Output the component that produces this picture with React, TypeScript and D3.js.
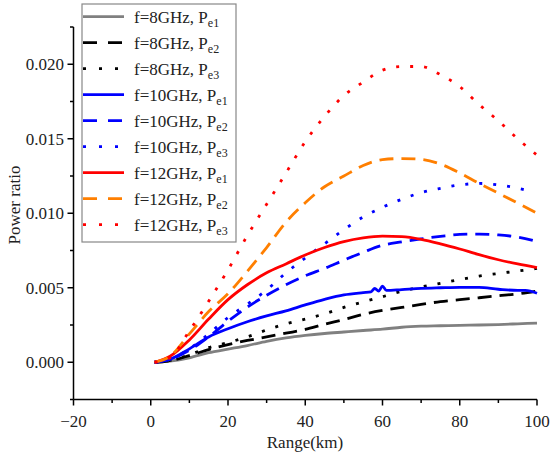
import React from "react";
import * as d3 from "d3";

const grid = [1, 5, 10, 15, 20, 25, 30, 35, 40, 45, 50, 55, 60, 65, 70, 75, 80, 85, 90, 95, 100];

const f8e1 = [0, 0.00008, 0.0003, 0.00064, 0.00088, 0.00112, 0.0014, 0.00163, 0.0018, 0.00193, 0.00203, 0.00213, 0.00222, 0.00235, 0.00242, 0.00245, 0.00248, 0.0025, 0.00253, 0.00258, 0.00263];
const f8e2 = [0, 0.0001, 0.00045, 0.00085, 0.00118, 0.00146, 0.0017, 0.00195, 0.0022, 0.00255, 0.00287, 0.00322, 0.00348, 0.00368, 0.00388, 0.00407, 0.0042, 0.00433, 0.00446, 0.00459, 0.00478];
const f8e3 = [0, 0.00012, 0.0005, 0.00098, 0.00132, 0.0017, 0.00217, 0.00258, 0.0029, 0.00325, 0.00368, 0.00405, 0.0044, 0.00477, 0.00505, 0.0053, 0.00555, 0.00578, 0.00596, 0.00612, 0.0063];

const x10e1 = [1, 5, 10, 15, 20, 25, 30, 35, 40, 45, 50, 55, 57, 58, 59, 60, 61, 65, 70, 75, 80, 85, 90, 95, 97, 100];
const f10e1 = [0, 0.0002, 0.0009, 0.0017, 0.00225, 0.00272, 0.00311, 0.00345, 0.00385, 0.00422, 0.00452, 0.00467, 0.00472, 0.00495, 0.00478, 0.0051, 0.00482, 0.00488, 0.00496, 0.005, 0.00503, 0.00502, 0.0049, 0.00482, 0.00482, 0.00463];
const f10e2 = [0, 0.0002, 0.0008, 0.0017, 0.00275, 0.0037, 0.0045, 0.0052, 0.0058, 0.0063, 0.00685, 0.00738, 0.00785, 0.00808, 0.00828, 0.00845, 0.00858, 0.0086, 0.00855, 0.0084, 0.0081];
const x10e3 = [1, 5, 10, 15, 20, 25, 30, 35, 40, 45, 50, 55, 60, 65, 70, 75, 80, 85, 90, 95, 98];
const f10e3 = [0, 0.0002, 0.0009, 0.0019, 0.003, 0.0039, 0.00485, 0.006, 0.007, 0.00795, 0.0089, 0.00975, 0.0104, 0.01094, 0.01138, 0.01167, 0.0119, 0.012, 0.0119, 0.01168, 0.0115];

const f12e1 = [0, 0.0004, 0.0015, 0.0029, 0.0042, 0.0052, 0.006, 0.0066, 0.0072, 0.0077, 0.0081, 0.00835, 0.00846, 0.00843, 0.00825, 0.00795, 0.0076, 0.00722, 0.00688, 0.0066, 0.00635];
const f12e2 = [0, 0.0004, 0.0019, 0.0034, 0.0046, 0.0061, 0.0077, 0.0094, 0.0107, 0.01178, 0.0125, 0.0132, 0.0136, 0.01367, 0.01362, 0.0133, 0.0127, 0.012, 0.01135, 0.01068, 0.01];
const f12e3 = [0, 0.0003, 0.0021, 0.0041, 0.0062, 0.0085, 0.0106, 0.0127, 0.0148, 0.0165, 0.0179, 0.0188, 0.0196, 0.01985, 0.01985, 0.0193, 0.0185, 0.0173, 0.0162, 0.015, 0.0139];

const freqLabels = ["f=8GHz, P", "f=8GHz, P", "f=8GHz, P", "f=10GHz, P", "f=10GHz, P", "f=10GHz, P", "f=12GHz, P", "f=12GHz, P", "f=12GHz, P"];
const subLabels = ["e1", "e2", "e3", "e1", "e2", "e3", "e1", "e2", "e3"];

const xMajor = [-20, 0, 20, 40, 60, 80, 100];
const xMinor = [-10, 10, 30, 50, 70, 90];
const yMajor = [0, 0.005, 0.01, 0.015, 0.02];
const yMinor = [-0.0025, 0.0025, 0.0075, 0.0125, 0.0175, 0.0225];

const GRAY = "#808080";
const BLUE = "#0000ff";
const RED = "#ff0000";
const ORANGE = "#ff7f00";
const SOLID = "none";
const DASH = "14 8";
const DOT = "3 11";

const series = [
  { xs: grid, ys: f8e1, color: GRAY, dash: SOLID },
  { xs: grid, ys: f8e2, color: "#000000", dash: DASH },
  { xs: grid, ys: f8e3, color: "#000000", dash: DOT },
  { xs: x10e1, ys: f10e1, color: BLUE, dash: SOLID },
  { xs: grid, ys: f10e2, color: BLUE, dash: DASH },
  { xs: x10e3, ys: f10e3, color: BLUE, dash: DOT },
  { xs: grid, ys: f12e1, color: RED, dash: SOLID },
  { xs: grid, ys: f12e2, color: ORANGE, dash: DASH },
  { xs: grid, ys: f12e3, color: RED, dash: DOT },
];

const FONT = "Liberation Serif, DejaVu Serif, serif";

export default function App() {
  const x = d3.scaleLinear().domain([-20, 100]).range([73.5, 537]);
  const y = d3.scaleLinear().domain([-0.0025, 0.0225]).range([399.5, 27]);
  const line = d3
    .line<[number, number]>()
    .x((d) => x(d[0]))
    .y((d) => y(d[1]))
    .curve(d3.curveMonotoneX);

  const x0 = x(-20);
  const yb = y(-0.0025);
  const yt = y(0.0225);
  const xr = x(100);
  const ts: React.CSSProperties = { fontFamily: FONT };

  return (
    <svg width={550} height={456} style={{ position: "absolute", left: 0, top: 0, background: "#fff", fontFamily: FONT }}>
      <rect x={0} y={0} width={550} height={456} fill="#fff" />
      {series.map((s, i) => (
        <path
          key={i}
          d={line(s.xs.map((v, j) => [v, s.ys[j]] as [number, number])) || ""}
          fill="none"
          stroke={s.color}
          strokeWidth={2.8}
          strokeDasharray={s.dash === SOLID ? undefined : s.dash}
          strokeLinejoin="round"
        />
      ))}
      <line x1={x0} x2={x0} y1={yt} y2={yb} stroke="#000" strokeWidth={1.5} />
      <line x1={x0} x2={xr} y1={yb} y2={yb} stroke="#000" strokeWidth={1.5} />
      {xMajor.map((t) => (
        <g key={"xM" + t}>
          <line x1={x(t)} x2={x(t)} y1={yb} y2={yb + 6} stroke="#000" strokeWidth={1.5} />
          <text x={x(t)} y={427} textAnchor="middle" fontSize={17} fill="#222" style={ts}>
            {t < 0 ? "\u2212" + Math.abs(t) : t}
          </text>
        </g>
      ))}
      {xMinor.map((t) => (
        <line key={"xm" + t} x1={x(t)} x2={x(t)} y1={yb} y2={yb + 3.5} stroke="#000" strokeWidth={1.5} />
      ))}
      {yMajor.map((t) => (
        <g key={"yM" + t}>
          <line x1={x0 - 6} x2={x0} y1={y(t)} y2={y(t)} stroke="#000" strokeWidth={1.5} />
          <text x={64} y={y(t) + 6} textAnchor="end" fontSize={17} fill="#222" style={ts}>
            {d3.format(".3f")(t)}
          </text>
        </g>
      ))}
      {yMinor.map((t) => (
        <line key={"ym" + t} x1={x0 - 3.5} x2={x0} y1={y(t)} y2={y(t)} stroke="#000" strokeWidth={1.5} />
      ))}
      <text x={305} y={448} textAnchor="middle" fontSize={17} fill="#222" style={ts}>
        Range(km)
      </text>
      <text transform="translate(20,205) rotate(-90)" textAnchor="middle" fontSize={17} fill="#222" style={ts}>
        Power ratio
      </text>
      <rect x={82} y={4} width={154} height={238} fill="#fff" stroke="#888" strokeWidth={1.2} />
      {series.map((s, i) => {
        const cy = 16.7 + i * 26;
        return (
          <g key={"lg" + i}>
            <line
              x1={83}
              x2={124}
              y1={cy}
              y2={cy}
              stroke={s.color}
              strokeWidth={2.8}
              strokeDasharray={s.dash === SOLID ? undefined : s.dash === DOT ? "3 13" : "14 11"}
            />
            <text x={134} y={cy + 6} fontSize={17} fill="#222" style={ts}>
              {freqLabels[i]}
              <tspan fontSize={12} dy={4}>
                {subLabels[i]}
              </tspan>
            </text>
          </g>
        );
      })}
    </svg>
  );
}
